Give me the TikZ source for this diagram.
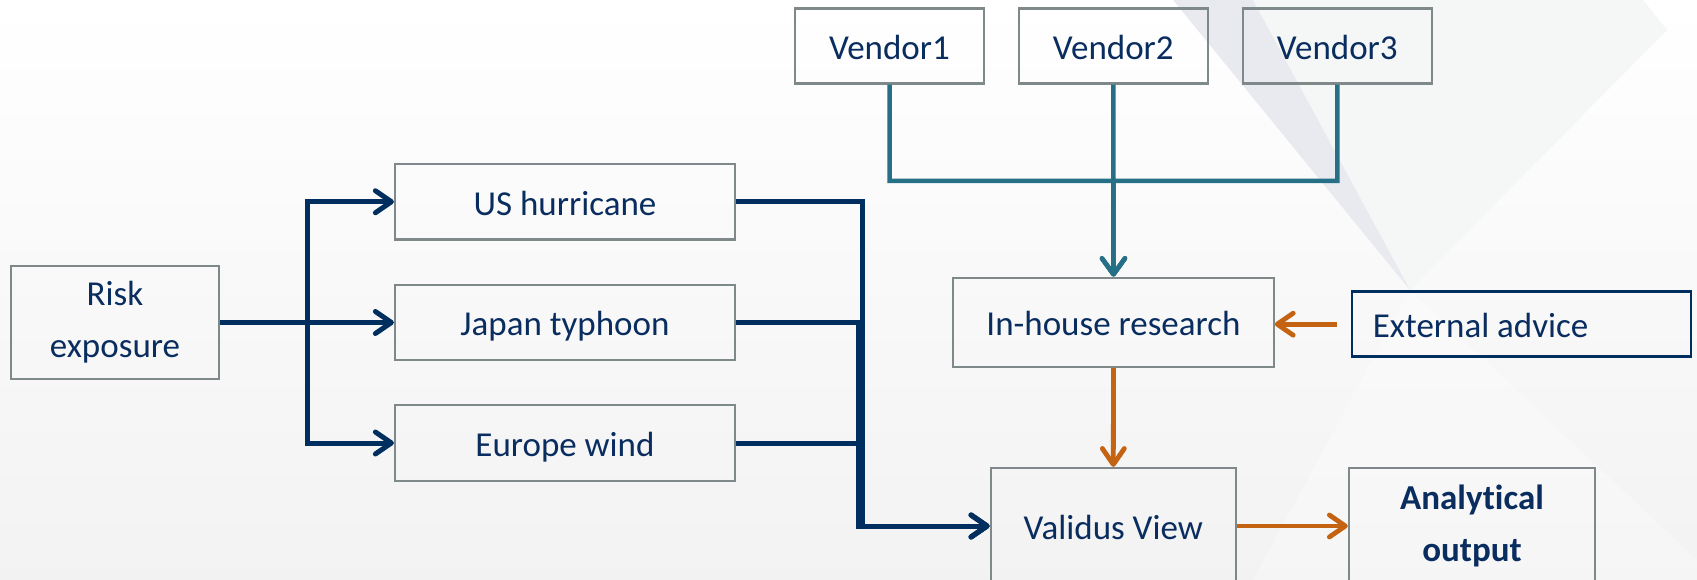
\documentclass[tikz,border=0pt]{standalone}
\usepackage{fontspec}
\setmainfont{Carlito}[Ligatures=NoCommon]
\usetikzlibrary{arrows.meta}

\definecolor{navytext}{RGB}{10,45,95}
\definecolor{navyline}{RGB}{0,47,95}
\definecolor{tealline}{RGB}{38,112,135}
\definecolor{orangeline}{RGB}{196,100,18}
\definecolor{boxgray}{RGB}{128,137,138}
\definecolor{bandgray}{RGB}{232,234,240}
\definecolor{palegray}{RGB}{245,247,247}

\tikzset{
  box/.style={draw=boxgray, line width=2.2pt, text=navytext, inner sep=0pt,
    font=\fontsize{35}{52}\selectfont, align=center},
  line box/.style={box, text height=30pt, text depth=3.5pt},
  flow/.style={line width=5pt, draw=navyline,
    -{Straight Barb[length=16pt,width=22pt,round]}},
  feed/.style={line width=4.5pt, draw=tealline,
    -{Straight Barb[length=16pt,width=23pt,round]}},
  advice/.style={line width=4.8pt, draw=orangeline,
    -{Straight Barb[length=16pt,width=22pt,round]}},
}

\begin{document}
\begin{tikzpicture}[x=1pt, y=-1pt]
  \useasboundingbox (0,0) rectangle (1697,580);
  \clip (0,0) rectangle (1697,580);
  % background
  \fill[top color=white, bottom color=black!5] (0,0) rectangle (1697,580);
  \fill[palegray] (1253,0) -- (1643,0) -- (1667,30) -- (1410,290) -- cycle;
  \fill[bandgray] (1173,0) -- (1253,0) -- (1410,290) -- cycle;
  \fill[white, opacity=.3] (1410,290) -- (1697,560) -- (1697,580) -- (1253,580) -- cycle;

  % boxes
  \node[box, minimum width=208pt, minimum height=113pt] (risk) at (115,322.5) {Risk\\exposure};
  \node[line box, minimum width=340pt, minimum height=75.5pt] (us) at (565,201.75) {US hurricane};
  \node[line box, minimum width=340pt, minimum height=75.5pt] (jp) at (565,322.5) {Japan typhoon};
  \node[line box, minimum width=340pt, minimum height=75.5pt] (eu) at (565,443) {Europe wind};
  \node[line box, minimum width=189pt, minimum height=75pt] (v1) at (889.5,46) {Vendor1};
  \node[line box, minimum width=189pt, minimum height=75pt] (v2) at (1113.3,46) {Vendor2};
  \node[line box, minimum width=189pt, minimum height=75pt] (v3) at (1337.3,46) {Vendor3};
  \node[line box, minimum width=320.4pt, minimum height=89pt] (inhouse) at (1113.5,322.2) {In-house research};
  \node[line box, draw=navyline, line width=2.5pt, align=flush left, inner xsep=21pt,
    text width=297pt, minimum height=65pt] (external) at (1521.3,324.2) {External advice};
  \node[line box, minimum width=245.3pt, minimum height=116pt] (validus) at (1113.3,526) {Validus View};
  \node[box, minimum width=246.3pt, minimum height=116pt] (analytical) at (1472,526)
    {\bfseries Analytical\\\bfseries output};

  % perils
  \coordinate (split) at (307,322.5);
  \draw[flow] (risk.east) -- (jp.west);
  \draw[flow] (risk.east) -- (split) |- (us.west);
  \draw[flow] (risk.east) -- (split) |- (eu.west);

  \coordinate (merge) at (862.5,0);
  \coordinate (merge2) at (858,0);
  \draw[flow] (us.east) -| (merge |- validus.west) -- (validus.west);
  \draw[flow] (jp.east) -| (merge2 |- validus.west) -- (validus.west);
  \draw[flow] (eu.east) -| (merge2 |- validus.west) -- (validus.west);

  % vendors
  \coordinate (bus) at (1113.3,181);
  \draw[feed] (v1.south) |- (bus) -- (inhouse.north);
  \draw[feed] (v3.south) |- (bus) -- (inhouse.north);
  \draw[feed] (v2.south) -- (inhouse.north);

  % research and output
  \draw[advice, shorten <=14pt] (external.west) -- (inhouse.east |- external.west);
  \draw[advice] (inhouse.south) -- (validus.north);
  \draw[advice] (validus.east) -- (analytical.west);
\end{tikzpicture}
\end{document}
